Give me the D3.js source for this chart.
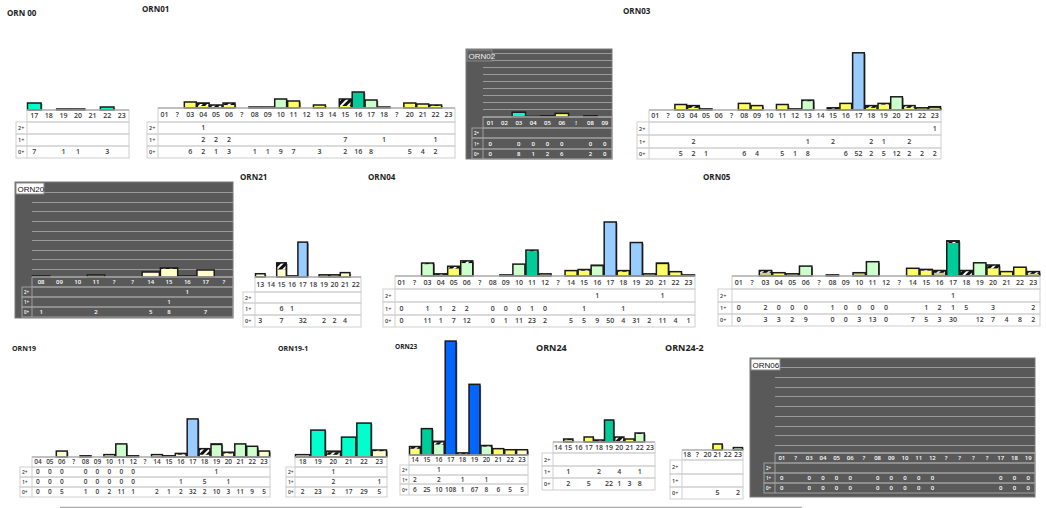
<!DOCTYPE html>
<html>
<head>
<meta charset="utf-8">
<script src="https://cdn.jsdelivr.net/npm/d3@7/dist/d3.min.js"></script>
<style>
  body { margin: 0; background: #fff; }
  svg text { font-family: "Open Sans", "DejaVu Sans", sans-serif; }
</style>
</head>
<body>
<svg width="1046" height="508"></svg>
<script>
// ---- data: categories, counts per row (0+, 1+, 2+), and bar tone per category ----
// tones: y yellow, p pale, k khaki, g light green, t green, c cyan, b light blue, B blue
var orn00Cats = ["17", "18", "19", "20", "21", "22", "23"];
var orn00Zero = [7, null, 1, 1, null, 3, null];
var orn00One = [null, null, null, null, null, null, null];
var orn00Two = [null, null, null, null, null, null, null];
var orn00Tone = ["c", null, "k", "k", null, "c", null];

var orn01Cats = ["01", "?", "03", "04", "05", "06", "?", "08", "09", "10", "11", "12", "13", "14", "15", "16", "17", "18", "?", "20", "21", "22", "23"];
var orn01Zero = [null, null, 6, 2, 1, 3, null, 1, 1, 9, 7, null, 3, null, 2, 16, 8, null, null, 5, 4, 2, null];
var orn01One = [null, null, null, 2, 2, 2, null, null, null, null, null, null, null, null, 7, null, null, 1, null, null, null, 1, null];
var orn01Two = [null, null, null, 1, null, null, null, null, null, null, null, null, null, null, null, null, null, null, null, null, null, null, null];
var orn01Tone = [null, null, "y", "y", "y", "y", null, "k", "k", "g", "y", null, "y", null, "y", "t", "g", null, null, "y", "y", "y", null];

var orn02Cats = ["01", "02", "03", "04", "05", "06", "!", "08", "09"];
var orn02Zero = [0, null, 8, 1, 2, 6, null, 2, 0];
var orn02One = [0, null, 0, 0, 0, 0, null, 0, 0];
var orn02Two = [null, null, null, null, null, null, null, null, null];
var orn02Tone = [null, null, "c", "k", "k", "y", null, "k", null];

var orn03Cats = ["01", "?", "03", "04", "05", "06", "?", "08", "09", "10", "11", "12", "13", "14", "15", "16", "17", "18", "19", "20", "21", "22", "23"];
var orn03Zero = [null, null, 5, 2, 1, null, null, 6, 4, null, 5, 1, 8, null, null, 6, 52, 2, 5, 12, 2, 2, 2];
var orn03One = [null, null, null, 2, null, null, null, null, null, null, null, null, 1, null, 2, null, null, 2, 1, null, 2, null, null];
var orn03Two = [null, null, null, null, null, null, null, null, null, null, null, null, null, null, null, null, null, null, null, null, null, null, 1];
var orn03Tone = [null, null, "y", "y", "k", null, null, "y", "y", null, "y", "k", "g", null, null, "y", "b", "y", "y", "g", "y", "k", "k"];

var orn20Cats = ["08", "09", "10", "11", "?", "?", "14", "15", "16", "17", "?"];
var orn20Zero = [1, null, null, 2, null, null, 5, 8, null, 7, null];
var orn20One = [null, null, null, null, null, null, null, 1, null, null, null];
var orn20Two = [null, null, null, null, null, null, null, null, 1, null, null];
var orn20Tone = ["k", null, null, "k", null, null, "p", "p", null, "p", null];

var orn21Cats = ["13", "14", "15", "16", "17", "18", "19", "20", "21", "22"];
var orn21Zero = [3, null, 7, null, 32, null, 2, 2, 4, null];
var orn21One = [null, null, 6, 1, null, null, null, null, null, null];
var orn21Two = [null, null, null, null, null, null, null, null, null, null];
var orn21Tone = ["p", null, "p", null, "b", null, "k", "k", "p", null];

var orn04Cats = ["01", "?", "03", "04", "05", "06", "?", "08", "09", "10", "11", "12", "?", "14", "15", "16", "17", "18", "19", "20", "21", "22", "23"];
var orn04Zero = [0, null, 11, 1, 7, 12, null, 0, 1, 11, 23, 2, null, 5, 5, 9, 50, 4, 31, 2, 11, 4, 1];
var orn04One = [0, null, 1, 1, 2, 2, null, 0, 0, 0, 1, 0, null, null, 1, null, null, 1, null, null, null, null, null];
var orn04Two = [null, null, null, null, null, null, null, null, null, null, null, null, null, null, null, 1, null, null, null, null, 1, null, null];
var orn04Tone = [null, null, "g", "k", "y", "g", null, null, "k", "g", "t", "k", null, "y", "y", "g", "b", "y", "b", "k", "y", "y", "k"];

var orn05Cats = ["01", "?", "03", "04", "05", "06", "?", "08", "09", "10", "11", "12", "?", "14", "15", "16", "17", "18", "19", "20", "21", "22", "23"];
var orn05Zero = [0, null, 3, 3, 2, 9, null, 0, 0, 3, 13, 0, null, 7, 5, 3, 30, null, 12, 7, 4, 8, 2];
var orn05One = [0, null, 2, 0, 0, 0, null, 1, 0, 0, 0, 0, null, null, 1, 2, 1, 5, null, 3, null, null, 2];
var orn05Two = [null, null, null, null, null, null, null, null, null, null, null, null, null, null, null, null, 1, null, null, null, null, null, null];
var orn05Tone = [null, null, "k", "y", "k", "g", null, null, null, "k", "g", null, null, "y", "y", "k", "t", null, "g", "y", "y", "y", "k"];

var orn19Cats = ["04", "05", "06", "?", "08", "09", "10", "11", "12", "?", "14", "15", "16", "17", "18", "19", "20", "21", "22", "23"];
var orn19Zero = [0, 0, 5, null, 1, 0, 2, 11, 1, null, 2, 1, 2, 32, 2, 10, 3, 11, 9, 5];
var orn19One = [0, 0, 0, null, 0, 0, 0, 0, 0, null, null, null, 1, null, 5, null, 1, null, null, null];
var orn19Two = [0, 0, 0, null, 0, 0, 0, 0, 0, null, null, null, null, null, null, 1, null, null, null, null];
var orn19Tone = [null, null, "p", null, "k", null, "p", "g", "k", null, "p", "k", "p", "b", "p", "g", "p", "g", "g", "p"];

var orn191Cats = ["18", "19", "20", "21", "22", "23"];
var orn191Zero = [2, 23, 2, 17, 29, 5];
var orn191One = [null, null, 2, null, null, 1];
var orn191Two = [null, null, 1, null, null, null];
var orn191Tone = ["p", "c", "p", "c", "c", "p"];

var orn23Cats = ["14", "15", "16", "17", "18", "19", "20", "21", "22", "23"];
var orn23Zero = [6, 25, 10, 108, 1, 67, 8, 6, 5, 5];
var orn23One = [2, null, 2, null, 1, null, 1, null, null, null];
var orn23Two = [null, null, 1, null, null, null, null, null, null, null];
var orn23Tone = ["y", "t", "g", "B", "k", "B", "g", "y", "y", "p"];

var orn24Cats = ["14", "15", "16", "17", "18", "19", "20", "21", "22", "23"];
var orn24Zero = [null, 2, null, 5, null, 22, 1, 3, 8, null];
var orn24One = [null, 1, null, null, 2, null, 4, null, 1, null];
var orn24Two = [null, null, null, null, null, null, null, null, null, null];
var orn24Tone = [null, "k", null, "y", null, "t", "y", "y", "g", null];

var orn242Cats = ["18", "?", "20", "21", "22", "23"];
var orn242Zero = [null, null, null, 5, null, 2];
var orn242One = [null, null, null, null, null, null];
var orn242Two = [null, null, null, null, null, null];
var orn242Tone = [null, null, null, "y", null, "g"];

var orn06Cats = ["01", "?", "03", "04", "05", "06", "?", "08", "09", "10", "11", "12", "?", "?", "?", "?", "17", "18", "19"];
var orn06Zero = [0, null, 0, 0, 0, 0, null, 0, 0, 0, 0, 0, null, null, null, null, 0, 0, 0];
var orn06One = [0, null, 0, 0, 0, 0, null, 0, 0, 0, 0, 0, null, null, null, null, 0, 0, 0];
var orn06Two = [null, null, null, null, null, null, null, null, null, null, null, null, null, null, null, null, null, null, null];
var orn06Tone = [null, null, null, null, null, null, null, null, null, null, null, null, null, null, null, null, null, null, null];

var rowLabels = ["2+", "1+", "0+"];

// ---- drawing ----
var toneColor = {
    y: "#ffff66", p: "#ffffcc", k: "#cccc88", g: "#ccffcc",
    t: "#00cc99", c: "#00ffcc", b: "#99ccff", B: "#0066ff"
};

var svg = d3.select("svg");

// hatch used for the 1+ part of a bar
var defs = svg.append("defs");
var hatch = defs.append("pattern")
    .attr("id", "hatch")
    .attr("patternUnits", "userSpaceOnUse")
    .attr("width", 5)
    .attr("height", 5)
    .attr("patternTransform", "rotate(45)");
hatch.append("rect").attr("width", 5).attr("height", 5).attr("fill", "#111");
hatch.append("rect").attr("width", 2).attr("height", 5).attr("fill", "#fff");

function drawPanel(p) {
    var g = svg.append("g");
    var n = p.cats.length;
    var idx = d3.range(n);
    var lineCol = p.dark ? "#a0a0a0" : "#cfcfcf";
    var textCol = p.dark ? "#ffffff" : "#3a3a3a";

    if (p.dark) {
        g.append("rect")
            .attr("x", p.box[0]).attr("y", p.box[1])
            .attr("width", p.box[2] - p.box[0]).attr("height", p.box[3] - p.box[1])
            .attr("fill", "#595959").attr("stroke", "#7a7a7a");
        var gy = d3.scaleLinear().domain([0, p.grid - 1]).range([p.gridTop, p.rows[0] - 8]);
        g.selectAll(".grid").data(d3.range(p.grid)).enter().append("line")
            .attr("x1", p.catX).attr("x2", p.right)
            .attr("y1", function(d) { return Math.round(gy(d)) + 0.5; })
            .attr("y2", function(d) { return Math.round(gy(d)) + 0.5; })
            .attr("stroke", "#9a9a9a").attr("stroke-width", 1);
        g.append("rect")
            .attr("x", p.box[0] + 1).attr("y", p.box[1] + 1)
            .attr("width", p.titleW).attr("height", 11)
            .attr("fill", p.titleFill).attr("stroke", "#888");
        g.append("text")
            .attr("x", p.box[0] + 2.5).attr("y", p.box[1] + 9.5)
            .attr("font-size", "8px")
            .attr("fill", p.titleFill == "#fff" ? "#111" : "#eee")
            .style("font-family", "'Liberation Sans', Arial, sans-serif")
            .text(p.title);
    } else {
        g.append("text")
            .attr("x", p.titleX).attr("y", p.titleY)
            .attr("font-size", p.titleSize || "8px")
            .attr("font-weight", "bold")
            .attr("fill", "#222")
            .text(p.title);
    }

    var x = d3.scaleBand().domain(idx).range([p.catX, p.right]);
    var y = d3.scaleLinear().domain([0, 100]).range([p.axisY, p.axisY - 100 * p.k]);

    // stacked bars: 0+ tone, 1+ hatch, 2+ black
    var table = idx.map(function(i) {
        return { i: i, zero: p.zero[i] || 0, one: p.one[i] || 0, two: p.two[i] || 0 };
    });
    var series = d3.stack().keys(["zero", "one", "two"])(table);
    var totals = table.filter(function(d) { return d.zero + d.one + d.two > 0; });
    var pad = 0.5;

    if (!p.dark) {
        g.selectAll(".shadow").data(totals).enter().append("rect")
            .attr("x", function(d) { return x(d.i) + pad + 1.2; })
            .attr("y", function(d) { return y(d.zero + d.one + d.two) + 1.2; })
            .attr("width", x.bandwidth() - 2 * pad)
            .attr("height", function(d) { return Math.max(1, y(0) - y(d.zero + d.one + d.two)) - 1.2; })
            .attr("fill", "#777");
    }

    var fills = [
        function(d) { return toneColor[p.tone[d.data.i]] || "#cccc88"; },
        function() { return "url(#hatch)"; },
        function() { return "#111"; }
    ];
    series.forEach(function(s, k) {
        g.selectAll(".seg" + k).data(s.filter(function(d) { return d[1] > d[0]; })).enter().append("rect")
            .attr("x", function(d) { return x(d.data.i) + pad; })
            .attr("y", function(d) { return y(d[1]); })
            .attr("width", x.bandwidth() - 2 * pad)
            .attr("height", function(d) { return y(d[0]) - y(d[1]); })
            .attr("fill", fills[k]);
    });
    g.selectAll(".outline").data(totals).enter().append("rect")
        .attr("x", function(d) { return x(d.i) + pad; })
        .attr("y", function(d) { return y(d.zero + d.one + d.two); })
        .attr("width", x.bandwidth() - 2 * pad)
        .attr("height", function(d) { return Math.max(0.5, y(0) - y(d.zero + d.one + d.two)); })
        .attr("fill", "none")
        .attr("stroke", "#1a1a1a")
        .attr("stroke-width", 1.5);

    // table frame
    var r = p.rows;
    g.append("rect")
        .attr("x", p.catX).attr("y", r[0])
        .attr("width", p.right - p.catX).attr("height", r[1] - r[0])
        .attr("fill", "none").attr("stroke", lineCol);
    g.append("line")
        .attr("x1", p.catX).attr("x2", p.right).attr("y1", r[0]).attr("y2", r[0])
        .attr("stroke", p.dark ? "#b0b0b0" : "#9a9a9a").attr("stroke-width", 1.2);
    for (var j = 0; j < 3; j++) {
        g.append("rect")
            .attr("x", p.labelX).attr("y", r[j + 1])
            .attr("width", p.right - p.labelX).attr("height", r[j + 2] - r[j + 1])
            .attr("fill", "none").attr("stroke", lineCol);
    }
    g.append("line")
        .attr("x1", p.catX).attr("x2", p.catX).attr("y1", r[1]).attr("y2", r[4])
        .attr("stroke", lineCol);

    var fs = p.fontSize || 7;
    g.selectAll(".cat").data(idx).enter().append("text")
        .attr("x", function(i) { return x(i) + x.bandwidth() / 2; })
        .attr("y", (r[0] + r[1]) / 2 + fs * 0.35)
        .attr("text-anchor", "middle")
        .attr("font-size", fs + "px")
        .attr("font-weight", 600)
        .attr("fill", textCol)
        .text(function(i) { return p.cats[i]; });

    var rowsData = [p.two, p.one, p.zero];
    rowsData.forEach(function(vals, j) {
        var cy = (r[j + 1] + r[j + 2]) / 2 + fs * 0.35;
        g.append("text")
            .attr("x", p.labelX + 2).attr("y", cy)
            .attr("font-size", (fs - 1.5) + "px")
            .attr("font-weight", 600)
            .attr("fill", textCol)
            .text(rowLabels[j]);
        g.selectAll(".v" + j).data(idx.filter(function(i) { return vals[i] != null; })).enter().append("text")
            .attr("x", function(i) { return x(i) + x.bandwidth() / 2; })
            .attr("y", cy)
            .attr("text-anchor", "middle")
            .attr("font-size", fs + "px")
            .attr("font-weight", 600)
            .attr("fill", textCol)
            .text(function(i) { return vals[i]; });
    });
}

var panels = [
    { title: "ORN 00", titleX: 7, titleY: 16, cats: orn00Cats, zero: orn00Zero, one: orn00One, two: orn00Two, tone: orn00Tone,
      labelX: 16, catX: 27, right: 129, axisY: 110, rows: [110, 122, 134, 146, 158], k: 1.0 },
    { title: "ORN01", titleX: 142, titleY: 12, cats: orn01Cats, zero: orn01Zero, one: orn01One, two: orn01Two, tone: orn01Tone,
      labelX: 147, catX: 158, right: 455, axisY: 108, rows: [108, 122, 134, 146, 158], k: 1.0 },
    { title: "ORN02", dark: true, box: [466, 49, 612, 159], titleW: 25, titleFill: "#5f5f5f", grid: 9, gridTop: 53,
      cats: orn02Cats, zero: orn02Zero, one: orn02One, two: orn02Two, tone: orn02Tone,
      labelX: 472, catX: 483, right: 612, axisY: 117, rows: [117, 128, 138, 149, 159], k: 0.6, fontSize: 6 },
    { title: "ORN03", titleX: 623, titleY: 14, cats: orn03Cats, zero: orn03Zero, one: orn03One, two: orn03Two, tone: orn03Tone,
      labelX: 637, catX: 649, right: 941, axisY: 110, rows: [110, 122, 135, 148, 159], k: 1.1 },
    { title: "ORN20", dark: true, box: [15, 182, 233, 318], titleW: 28, titleFill: "#fff", grid: 9, gridTop: 192,
      cats: orn20Cats, zero: orn20Zero, one: orn20One, two: orn20Two, tone: orn20Tone,
      labelX: 22, catX: 32, right: 233, axisY: 277, rows: [277, 287, 297, 307, 317], k: 1.0, fontSize: 6 },
    { title: "ORN21", titleX: 240, titleY: 180, cats: orn21Cats, zero: orn21Zero, one: orn21One, two: orn21Two, tone: orn21Tone,
      labelX: 243, catX: 255, right: 361, axisY: 277, rows: [277, 292, 303, 315, 327], k: 1.09 },
    { title: "ORN04", titleX: 368, titleY: 180, cats: orn04Cats, zero: orn04Zero, one: orn04One, two: orn04Two, tone: orn04Tone,
      labelX: 383, catX: 395, right: 695, axisY: 276, rows: [276, 289, 302, 315, 327], k: 1.08 },
    { title: "ORN05", titleX: 703, titleY: 180, cats: orn05Cats, zero: orn05Zero, one: orn05One, two: orn05Two, tone: orn05Tone,
      labelX: 718, catX: 732, right: 1040, axisY: 276, rows: [276, 289, 302, 314, 326], k: 1.1 },
    { title: "ORN19", titleX: 12, titleY: 351, cats: orn19Cats, zero: orn19Zero, one: orn19One, two: orn19Two, tone: orn19Tone,
      labelX: 20, catX: 32, right: 270, axisY: 457, rows: [457, 467, 477, 487, 497], k: 1.19, fontSize: 6.5, titleSize: "7px" },
    { title: "ORN19-1", titleX: 278, titleY: 351, cats: orn191Cats, zero: orn191Zero, one: orn191One, two: orn191Two, tone: orn191Tone,
      labelX: 286, catX: 295, right: 387, axisY: 457, rows: [457, 467, 477, 487, 497], k: 1.17, fontSize: 6.5, titleSize: "7px" },
    { title: "ORN23", titleX: 395, titleY: 349, cats: orn23Cats, zero: orn23Zero, one: orn23One, two: orn23Two, tone: orn23Tone,
      labelX: 400, catX: 409, right: 528, axisY: 455, rows: [455, 465, 475, 484, 495], k: 1.055, fontSize: 6.5, titleSize: "6.5px" },
    { title: "ORN24", titleX: 536, titleY: 351, cats: orn24Cats, zero: orn24Zero, one: orn24One, two: orn24Two, tone: orn24Tone,
      labelX: 542, catX: 553, right: 655, axisY: 442, rows: [442, 453, 466, 478, 490], k: 1.0, titleSize: "9px" },
    { title: "ORN24-2", titleX: 665, titleY: 351, cats: orn242Cats, zero: orn242Zero, one: orn242One, two: orn242Two, tone: orn242Tone,
      labelX: 670, catX: 682, right: 743, axisY: 450, rows: [450, 460, 474, 487, 499], k: 1.2, titleSize: "9px" },
    { title: "ORN06", dark: true, box: [750, 358, 1035, 497], titleW: 29, titleFill: "#fff", grid: 9, gridTop: 367,
      cats: orn06Cats, zero: orn06Zero, one: orn06One, two: orn06Two, tone: orn06Tone,
      labelX: 764, catX: 775, right: 1035, axisY: 453, rows: [453, 463, 473, 483, 493], k: 1.0, fontSize: 6 }
];

panels.forEach(drawPanel);

// rule along the bottom edge
svg.append("line")
    .attr("x1", 60).attr("x2", 802)
    .attr("y1", 507.5).attr("y2", 507.5)
    .attr("stroke", "#aaa").attr("stroke-width", 1.5);
</script>
</body>
</html>
